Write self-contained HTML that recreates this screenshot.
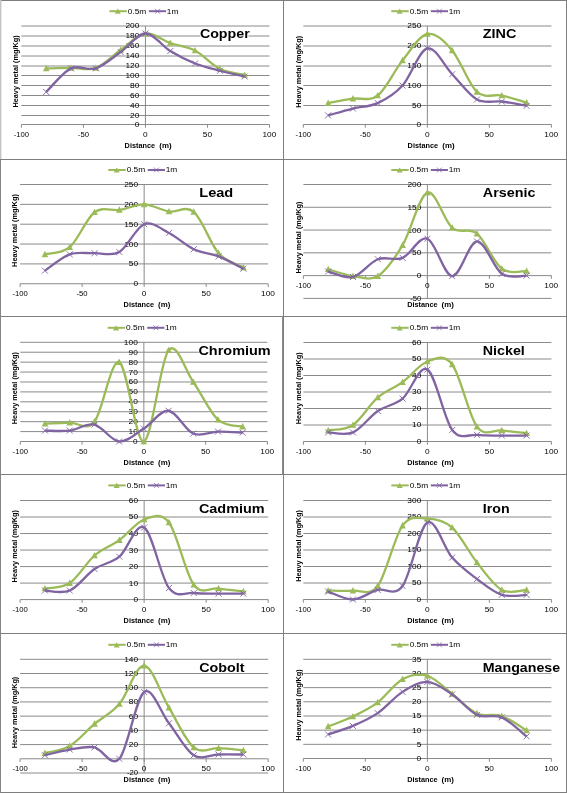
<!DOCTYPE html>
<html><head><meta charset="utf-8"><style>
html,body{margin:0;padding:0;background:#fff;}
svg{display:block;font-family:"Liberation Sans",sans-serif;will-change:transform;}
</style></head><body>
<svg width="567" height="793" viewBox="0 0 567 793">
<rect width="567" height="793" fill="#fff"/>
<line x1="21.4" y1="115.5" x2="269.5" y2="115.5" stroke="#8a8a8a"/>
<line x1="21.4" y1="105.5" x2="269.5" y2="105.5" stroke="#8a8a8a"/>
<line x1="21.4" y1="95.5" x2="269.5" y2="95.5" stroke="#8a8a8a"/>
<line x1="21.4" y1="85.5" x2="269.5" y2="85.5" stroke="#8a8a8a"/>
<line x1="21.4" y1="75.5" x2="269.5" y2="75.5" stroke="#8a8a8a"/>
<line x1="21.4" y1="66" x2="269.5" y2="66" stroke="#8a8a8a"/>
<line x1="21.4" y1="56" x2="269.5" y2="56" stroke="#8a8a8a"/>
<line x1="21.4" y1="46" x2="269.5" y2="46" stroke="#8a8a8a"/>
<line x1="21.4" y1="36" x2="269.5" y2="36" stroke="#8a8a8a"/>
<line x1="21.4" y1="26" x2="269.5" y2="26" stroke="#8a8a8a"/>
<line x1="21.4" y1="124.5" x2="269.5" y2="124.5" stroke="#8a8a8a"/>
<line x1="21.4" y1="124.5" x2="21.4" y2="127.7" stroke="#8a8a8a"/>
<line x1="83.42" y1="124.5" x2="83.42" y2="127.7" stroke="#8a8a8a"/>
<line x1="145.45" y1="124.5" x2="145.45" y2="127.7" stroke="#8a8a8a"/>
<line x1="207.47" y1="124.5" x2="207.47" y2="127.7" stroke="#8a8a8a"/>
<line x1="269.5" y1="124.5" x2="269.5" y2="127.7" stroke="#8a8a8a"/>
<line x1="145.45" y1="26" x2="145.45" y2="124.5" stroke="#8a8a8a"/>
<text x="134.74" y="126.95" font-size="7" textLength="4.63" lengthAdjust="spacingAndGlyphs" fill="#000">0</text>
<text x="130.11" y="117.95" font-size="7" textLength="9.27" lengthAdjust="spacingAndGlyphs" fill="#000">20</text>
<text x="130.11" y="107.95" font-size="7" textLength="9.27" lengthAdjust="spacingAndGlyphs" fill="#000">40</text>
<text x="130.11" y="97.95" font-size="7" textLength="9.27" lengthAdjust="spacingAndGlyphs" fill="#000">60</text>
<text x="130.11" y="87.95" font-size="7" textLength="9.27" lengthAdjust="spacingAndGlyphs" fill="#000">80</text>
<text x="125.48" y="77.95" font-size="7" textLength="13.9" lengthAdjust="spacingAndGlyphs" fill="#000">100</text>
<text x="125.48" y="68.45" font-size="7" textLength="13.9" lengthAdjust="spacingAndGlyphs" fill="#000">120</text>
<text x="125.48" y="58.45" font-size="7" textLength="13.9" lengthAdjust="spacingAndGlyphs" fill="#000">140</text>
<text x="125.48" y="48.45" font-size="7" textLength="13.9" lengthAdjust="spacingAndGlyphs" fill="#000">160</text>
<text x="125.48" y="38.45" font-size="7" textLength="13.9" lengthAdjust="spacingAndGlyphs" fill="#000">180</text>
<text x="125.48" y="28.45" font-size="7" textLength="13.9" lengthAdjust="spacingAndGlyphs" fill="#000">200</text>
<text x="13.71" y="136.95" font-size="7" textLength="15.34" lengthAdjust="spacingAndGlyphs" fill="#000">-100</text>
<text x="77.87" y="136.95" font-size="7" textLength="11.08" lengthAdjust="spacingAndGlyphs" fill="#000">-50</text>
<text x="143.13" y="136.95" font-size="7" textLength="4.63" lengthAdjust="spacingAndGlyphs" fill="#000">0</text>
<text x="202.84" y="136.95" font-size="7" textLength="9.27" lengthAdjust="spacingAndGlyphs" fill="#000">50</text>
<text x="262.4" y="136.95" font-size="7" textLength="13.9" lengthAdjust="spacingAndGlyphs" fill="#000">100</text>
<text x="124.61" y="147.9" font-size="6.9" textLength="30.44" lengthAdjust="spacingAndGlyphs" font-weight="bold" fill="#000">Distance</text>
<text x="159.31" y="147.9" font-size="6.9" textLength="12.29" lengthAdjust="spacingAndGlyphs" font-weight="bold" fill="#000">(m)</text>
<text transform="translate(18.34,107.49) rotate(-90)" x="0" y="0" font-size="7.1" textLength="72.05" lengthAdjust="spacingAndGlyphs" font-weight="bold" fill="#000">Heavy metal (mg/Kg)</text>
<line x1="109.4" y1="11.2" x2="126.8" y2="11.2" stroke="#9BBB59" stroke-width="2"/>
<path d="M117.8,8.6 L120.8,13.8 L114.8,13.8Z" fill="#9BBB59"/>
<text x="127.77" y="13.65" font-size="7" textLength="18.52" lengthAdjust="spacingAndGlyphs" fill="#000">0.5m</text>
<line x1="148.9" y1="11.2" x2="166.1" y2="11.2" stroke="#8064A2" stroke-width="2"/>
<path d="M155.1,8.8 L159.9,13.6 M159.9,8.8 L155.1,13.6" stroke="#8064A2" stroke-width="0.8"/>
<text x="166.77" y="13.65" font-size="7" textLength="11.57" lengthAdjust="spacingAndGlyphs" fill="#000">1m</text>
<path d="M46.21,68.38 C50.34,68.3 62.75,67.98 71.02,67.9 C79.29,67.82 87.56,70.88 95.83,67.9 C104.1,64.92 112.37,55.73 120.64,50 C128.91,44.27 137.18,34.67 145.45,33.5 C153.72,32.33 161.99,40.17 170.26,43 C178.53,45.83 186.8,46.19 195.07,50.5 C203.34,54.81 211.61,64.76 219.88,68.85 C228.15,72.94 240.56,74 244.69,75.03" fill="none" stroke="#9BBB59" stroke-width="2.3" stroke-linejoin="round"/>
<path d="M46.21,64.78 L49.51,71.17 L42.91,71.17Z" fill="#9BBB59"/>
<path d="M71.02,64.3 L74.32,70.7 L67.72,70.7Z" fill="#9BBB59"/>
<path d="M95.83,64.3 L99.13,70.7 L92.53,70.7Z" fill="#9BBB59"/>
<path d="M120.64,46.4 L123.94,52.8 L117.34,52.8Z" fill="#9BBB59"/>
<path d="M145.45,29.9 L148.75,36.3 L142.15,36.3Z" fill="#9BBB59"/>
<path d="M170.26,39.4 L173.56,45.8 L166.96,45.8Z" fill="#9BBB59"/>
<path d="M195.07,46.9 L198.37,53.3 L191.77,53.3Z" fill="#9BBB59"/>
<path d="M219.88,65.25 L223.18,71.65 L216.58,71.65Z" fill="#9BBB59"/>
<path d="M244.69,71.43 L247.99,77.83 L241.39,77.83Z" fill="#9BBB59"/>
<path d="M46.21,92 C50.34,88.06 62.75,72.31 71.02,68.38 C79.29,64.44 87.56,71.1 95.83,68.38 C104.1,65.65 112.37,57.81 120.64,52 C128.91,46.19 137.18,33.67 145.45,33.5 C153.72,33.33 161.99,46 170.26,51 C178.53,56 186.8,60.21 195.07,63.5 C203.34,66.79 211.61,68.58 219.88,70.75 C228.15,72.92 240.56,75.54 244.69,76.5" fill="none" stroke="#8064A2" stroke-width="2.3" stroke-linejoin="round"/>
<path d="M43.21,89 L49.21,95 M49.21,89 L43.21,95" stroke="#8064A2" stroke-width="0.9"/>
<path d="M68.02,65.38 L74.02,71.38 M74.02,65.38 L68.02,71.38" stroke="#8064A2" stroke-width="0.9"/>
<path d="M92.83,65.38 L98.83,71.38 M98.83,65.38 L92.83,71.38" stroke="#8064A2" stroke-width="0.9"/>
<path d="M117.64,49 L123.64,55 M123.64,49 L117.64,55" stroke="#8064A2" stroke-width="0.9"/>
<path d="M142.45,30.5 L148.45,36.5 M148.45,30.5 L142.45,36.5" stroke="#8064A2" stroke-width="0.9"/>
<path d="M167.26,48 L173.26,54 M173.26,48 L167.26,54" stroke="#8064A2" stroke-width="0.9"/>
<path d="M192.07,60.5 L198.07,66.5 M198.07,60.5 L192.07,66.5" stroke="#8064A2" stroke-width="0.9"/>
<path d="M216.88,67.75 L222.88,73.75 M222.88,67.75 L216.88,73.75" stroke="#8064A2" stroke-width="0.9"/>
<path d="M241.69,73.5 L247.69,79.5 M247.69,73.5 L241.69,79.5" stroke="#8064A2" stroke-width="0.9"/>
<rect x="200.2" y="27.5" width="48.3" height="11.2" fill="#fff"/>
<text x="199.92" y="37.5" font-size="12.9" textLength="49.8" lengthAdjust="spacingAndGlyphs" font-weight="bold" fill="#000">Copper</text>
<line x1="303.3" y1="105.5" x2="551.4" y2="105.5" stroke="#8a8a8a"/>
<line x1="303.3" y1="85.5" x2="551.4" y2="85.5" stroke="#8a8a8a"/>
<line x1="303.3" y1="66" x2="551.4" y2="66" stroke="#8a8a8a"/>
<line x1="303.3" y1="46" x2="551.4" y2="46" stroke="#8a8a8a"/>
<line x1="303.3" y1="26" x2="551.4" y2="26" stroke="#8a8a8a"/>
<line x1="303.3" y1="124.5" x2="551.4" y2="124.5" stroke="#8a8a8a"/>
<line x1="303.3" y1="124.5" x2="303.3" y2="127.7" stroke="#8a8a8a"/>
<line x1="365.32" y1="124.5" x2="365.32" y2="127.7" stroke="#8a8a8a"/>
<line x1="427.35" y1="124.5" x2="427.35" y2="127.7" stroke="#8a8a8a"/>
<line x1="489.38" y1="124.5" x2="489.38" y2="127.7" stroke="#8a8a8a"/>
<line x1="551.4" y1="124.5" x2="551.4" y2="127.7" stroke="#8a8a8a"/>
<line x1="427.35" y1="26" x2="427.35" y2="124.5" stroke="#8a8a8a"/>
<text x="416.64" y="126.95" font-size="7" textLength="4.63" lengthAdjust="spacingAndGlyphs" fill="#000">0</text>
<text x="412.01" y="107.95" font-size="7" textLength="9.27" lengthAdjust="spacingAndGlyphs" fill="#000">50</text>
<text x="407.38" y="87.95" font-size="7" textLength="13.9" lengthAdjust="spacingAndGlyphs" fill="#000">100</text>
<text x="407.38" y="68.45" font-size="7" textLength="13.9" lengthAdjust="spacingAndGlyphs" fill="#000">150</text>
<text x="407.38" y="48.45" font-size="7" textLength="13.9" lengthAdjust="spacingAndGlyphs" fill="#000">200</text>
<text x="407.38" y="28.45" font-size="7" textLength="13.9" lengthAdjust="spacingAndGlyphs" fill="#000">250</text>
<text x="295.61" y="136.95" font-size="7" textLength="15.34" lengthAdjust="spacingAndGlyphs" fill="#000">-100</text>
<text x="359.77" y="136.95" font-size="7" textLength="11.08" lengthAdjust="spacingAndGlyphs" fill="#000">-50</text>
<text x="425.03" y="136.95" font-size="7" textLength="4.63" lengthAdjust="spacingAndGlyphs" fill="#000">0</text>
<text x="484.74" y="136.95" font-size="7" textLength="9.27" lengthAdjust="spacingAndGlyphs" fill="#000">50</text>
<text x="544.3" y="136.95" font-size="7" textLength="13.9" lengthAdjust="spacingAndGlyphs" fill="#000">100</text>
<text x="407.61" y="147.9" font-size="6.9" textLength="30.44" lengthAdjust="spacingAndGlyphs" font-weight="bold" fill="#000">Distance</text>
<text x="442.31" y="147.9" font-size="6.9" textLength="12.29" lengthAdjust="spacingAndGlyphs" font-weight="bold" fill="#000">(m)</text>
<text transform="translate(300.68,107.69) rotate(-90)" x="0" y="0" font-size="7.7" textLength="71.75" lengthAdjust="spacingAndGlyphs" font-weight="bold" fill="#000">Heavy metal (mg/Kg)</text>
<line x1="391.3" y1="11.2" x2="408.7" y2="11.2" stroke="#9BBB59" stroke-width="2"/>
<path d="M399.7,8.6 L402.7,13.8 L396.7,13.8Z" fill="#9BBB59"/>
<text x="409.67" y="13.65" font-size="7" textLength="18.52" lengthAdjust="spacingAndGlyphs" fill="#000">0.5m</text>
<line x1="430.8" y1="11.2" x2="448" y2="11.2" stroke="#8064A2" stroke-width="2"/>
<path d="M437,8.8 L441.8,13.6 M441.8,8.8 L437,13.6" stroke="#8064A2" stroke-width="0.8"/>
<text x="448.67" y="13.65" font-size="7" textLength="11.57" lengthAdjust="spacingAndGlyphs" fill="#000">1m</text>
<path d="M328.11,103.1 C332.25,102.37 344.65,99.97 352.92,98.7 C361.19,97.43 369.46,101.88 377.73,95.5 C386,89.12 394.27,70.65 402.54,60.4 C410.81,50.15 419.08,35.67 427.35,34 C435.62,32.33 443.89,40.75 452.16,50.4 C460.43,60.05 468.7,84.38 476.97,91.9 C485.24,99.42 493.51,93.7 501.78,95.5 C510.05,97.3 522.45,101.5 526.59,102.7" fill="none" stroke="#9BBB59" stroke-width="2.3" stroke-linejoin="round"/>
<path d="M328.11,99.5 L331.41,105.9 L324.81,105.9Z" fill="#9BBB59"/>
<path d="M352.92,95.1 L356.22,101.5 L349.62,101.5Z" fill="#9BBB59"/>
<path d="M377.73,91.9 L381.03,98.3 L374.43,98.3Z" fill="#9BBB59"/>
<path d="M402.54,56.8 L405.84,63.2 L399.24,63.2Z" fill="#9BBB59"/>
<path d="M427.35,30.4 L430.65,36.8 L424.05,36.8Z" fill="#9BBB59"/>
<path d="M452.16,46.8 L455.46,53.2 L448.86,53.2Z" fill="#9BBB59"/>
<path d="M476.97,88.3 L480.27,94.7 L473.67,94.7Z" fill="#9BBB59"/>
<path d="M501.78,91.9 L505.08,98.3 L498.48,98.3Z" fill="#9BBB59"/>
<path d="M526.59,99.1 L529.89,105.5 L523.29,105.5Z" fill="#9BBB59"/>
<path d="M328.11,115.38 C332.25,114.24 344.65,110.59 352.92,108.54 C361.19,106.49 369.46,106.94 377.73,103.1 C386,99.26 394.27,94.62 402.54,85.5 C410.81,76.38 419.08,50.29 427.35,48.4 C435.62,46.52 443.89,65.67 452.16,74.19 C460.43,82.71 468.7,94.95 476.97,99.5 C485.24,104.05 493.51,100.44 501.78,101.5 C510.05,102.56 522.45,105.15 526.59,105.88" fill="none" stroke="#8064A2" stroke-width="2.3" stroke-linejoin="round"/>
<path d="M325.11,112.38 L331.11,118.38 M331.11,112.38 L325.11,118.38" stroke="#8064A2" stroke-width="0.9"/>
<path d="M349.92,105.54 L355.92,111.54 M355.92,105.54 L349.92,111.54" stroke="#8064A2" stroke-width="0.9"/>
<path d="M374.73,100.1 L380.73,106.1 M380.73,100.1 L374.73,106.1" stroke="#8064A2" stroke-width="0.9"/>
<path d="M399.54,82.5 L405.54,88.5 M405.54,82.5 L399.54,88.5" stroke="#8064A2" stroke-width="0.9"/>
<path d="M424.35,45.4 L430.35,51.4 M430.35,45.4 L424.35,51.4" stroke="#8064A2" stroke-width="0.9"/>
<path d="M449.16,71.19 L455.16,77.19 M455.16,71.19 L449.16,77.19" stroke="#8064A2" stroke-width="0.9"/>
<path d="M473.97,96.5 L479.97,102.5 M479.97,96.5 L473.97,102.5" stroke="#8064A2" stroke-width="0.9"/>
<path d="M498.78,98.5 L504.78,104.5 M504.78,98.5 L498.78,104.5" stroke="#8064A2" stroke-width="0.9"/>
<path d="M523.59,102.88 L529.59,108.88 M529.59,102.88 L523.59,108.88" stroke="#8064A2" stroke-width="0.9"/>
<rect x="482.9" y="27.7" width="32.1" height="11.2" fill="#fff"/>
<text x="482.77" y="37.7" font-size="12.9" textLength="33.62" lengthAdjust="spacingAndGlyphs" font-weight="bold" fill="#000">ZINC</text>
<line x1="20.1" y1="263.9" x2="268.2" y2="263.9" stroke="#8a8a8a"/>
<line x1="20.1" y1="244.05" x2="268.2" y2="244.05" stroke="#8a8a8a"/>
<line x1="20.1" y1="224.2" x2="268.2" y2="224.2" stroke="#8a8a8a"/>
<line x1="20.1" y1="204.35" x2="268.2" y2="204.35" stroke="#8a8a8a"/>
<line x1="20.1" y1="184.5" x2="268.2" y2="184.5" stroke="#8a8a8a"/>
<line x1="20.1" y1="283.75" x2="268.2" y2="283.75" stroke="#8a8a8a"/>
<line x1="20.1" y1="283.75" x2="20.1" y2="286.95" stroke="#8a8a8a"/>
<line x1="82.12" y1="283.75" x2="82.12" y2="286.95" stroke="#8a8a8a"/>
<line x1="144.15" y1="283.75" x2="144.15" y2="286.95" stroke="#8a8a8a"/>
<line x1="206.17" y1="283.75" x2="206.17" y2="286.95" stroke="#8a8a8a"/>
<line x1="268.2" y1="283.75" x2="268.2" y2="286.95" stroke="#8a8a8a"/>
<line x1="144.15" y1="184.5" x2="144.15" y2="283.75" stroke="#8a8a8a"/>
<text x="133.44" y="286.2" font-size="7" textLength="4.63" lengthAdjust="spacingAndGlyphs" fill="#000">0</text>
<text x="128.81" y="266.35" font-size="7" textLength="9.27" lengthAdjust="spacingAndGlyphs" fill="#000">50</text>
<text x="124.18" y="246.5" font-size="7" textLength="13.9" lengthAdjust="spacingAndGlyphs" fill="#000">100</text>
<text x="124.18" y="226.65" font-size="7" textLength="13.9" lengthAdjust="spacingAndGlyphs" fill="#000">150</text>
<text x="124.18" y="206.8" font-size="7" textLength="13.9" lengthAdjust="spacingAndGlyphs" fill="#000">200</text>
<text x="124.18" y="186.95" font-size="7" textLength="13.9" lengthAdjust="spacingAndGlyphs" fill="#000">250</text>
<text x="12.41" y="296.2" font-size="7" textLength="15.34" lengthAdjust="spacingAndGlyphs" fill="#000">-100</text>
<text x="76.57" y="296.2" font-size="7" textLength="11.08" lengthAdjust="spacingAndGlyphs" fill="#000">-50</text>
<text x="141.83" y="296.2" font-size="7" textLength="4.63" lengthAdjust="spacingAndGlyphs" fill="#000">0</text>
<text x="201.54" y="296.2" font-size="7" textLength="9.27" lengthAdjust="spacingAndGlyphs" fill="#000">50</text>
<text x="261.1" y="296.2" font-size="7" textLength="13.9" lengthAdjust="spacingAndGlyphs" fill="#000">100</text>
<text x="123.61" y="306.7" font-size="6.9" textLength="30.44" lengthAdjust="spacingAndGlyphs" font-weight="bold" fill="#000">Distance</text>
<text x="158.01" y="306.7" font-size="6.9" textLength="12.29" lengthAdjust="spacingAndGlyphs" font-weight="bold" fill="#000">(m)</text>
<text transform="translate(17.04,266.89) rotate(-90)" x="0" y="0" font-size="7.1" textLength="72.76" lengthAdjust="spacingAndGlyphs" font-weight="bold" fill="#000">Heavy metal (mg/Kg)</text>
<line x1="108.3" y1="170" x2="125.7" y2="170" stroke="#9BBB59" stroke-width="2"/>
<path d="M116.7,167.4 L119.7,172.6 L113.7,172.6Z" fill="#9BBB59"/>
<text x="126.67" y="172.45" font-size="7" textLength="18.52" lengthAdjust="spacingAndGlyphs" fill="#000">0.5m</text>
<line x1="147.8" y1="170" x2="165" y2="170" stroke="#8064A2" stroke-width="2"/>
<path d="M154,167.6 L158.8,172.4 M158.8,167.6 L154,172.4" stroke="#8064A2" stroke-width="0.8"/>
<text x="165.67" y="172.45" font-size="7" textLength="11.57" lengthAdjust="spacingAndGlyphs" fill="#000">1m</text>
<path d="M44.91,254.37 C49.05,253.18 61.45,254.24 69.72,247.23 C77.99,240.21 86.26,218.51 94.53,212.29 C102.8,206.07 111.07,211.23 119.34,209.91 C127.61,208.58 135.88,204.09 144.15,204.35 C152.42,204.61 160.69,210.24 168.96,211.5 C177.23,212.75 185.5,204.95 193.77,211.89 C202.04,218.84 210.31,243.92 218.58,253.18 C226.85,262.44 239.25,265.09 243.39,267.47" fill="none" stroke="#9BBB59" stroke-width="2.3" stroke-linejoin="round"/>
<path d="M44.91,250.77 L48.21,257.17 L41.61,257.17Z" fill="#9BBB59"/>
<path d="M69.72,243.63 L73.02,250.03 L66.42,250.03Z" fill="#9BBB59"/>
<path d="M94.53,208.69 L97.83,215.09 L91.23,215.09Z" fill="#9BBB59"/>
<path d="M119.34,206.31 L122.64,212.71 L116.04,212.71Z" fill="#9BBB59"/>
<path d="M144.15,200.75 L147.45,207.15 L140.85,207.15Z" fill="#9BBB59"/>
<path d="M168.96,207.9 L172.26,214.3 L165.66,214.3Z" fill="#9BBB59"/>
<path d="M193.77,208.29 L197.07,214.69 L190.47,214.69Z" fill="#9BBB59"/>
<path d="M218.58,249.58 L221.88,255.98 L215.28,255.98Z" fill="#9BBB59"/>
<path d="M243.39,263.87 L246.69,270.27 L240.09,270.27Z" fill="#9BBB59"/>
<path d="M44.91,270.65 C49.05,267.94 61.45,257.28 69.72,254.37 C77.99,251.46 86.26,253.58 94.53,253.18 C102.8,252.78 111.07,256.82 119.34,251.99 C127.61,247.16 135.88,227.38 144.15,224.2 C152.42,221.02 160.69,228.77 168.96,232.93 C177.23,237.1 185.5,245.31 193.77,249.21 C202.04,253.11 210.31,253.11 218.58,256.36 C226.85,259.6 239.25,266.61 243.39,268.66" fill="none" stroke="#8064A2" stroke-width="2.3" stroke-linejoin="round"/>
<path d="M41.91,267.65 L47.91,273.65 M47.91,267.65 L41.91,273.65" stroke="#8064A2" stroke-width="0.9"/>
<path d="M66.72,251.37 L72.72,257.37 M72.72,251.37 L66.72,257.37" stroke="#8064A2" stroke-width="0.9"/>
<path d="M91.53,250.18 L97.53,256.18 M97.53,250.18 L91.53,256.18" stroke="#8064A2" stroke-width="0.9"/>
<path d="M116.34,248.99 L122.34,254.99 M122.34,248.99 L116.34,254.99" stroke="#8064A2" stroke-width="0.9"/>
<path d="M141.15,221.2 L147.15,227.2 M147.15,221.2 L141.15,227.2" stroke="#8064A2" stroke-width="0.9"/>
<path d="M165.96,229.93 L171.96,235.93 M171.96,229.93 L165.96,235.93" stroke="#8064A2" stroke-width="0.9"/>
<path d="M190.77,246.21 L196.77,252.21 M196.77,246.21 L190.77,252.21" stroke="#8064A2" stroke-width="0.9"/>
<path d="M215.58,253.36 L221.58,259.36 M221.58,253.36 L215.58,259.36" stroke="#8064A2" stroke-width="0.9"/>
<path d="M240.39,265.66 L246.39,271.66 M246.39,265.66 L240.39,271.66" stroke="#8064A2" stroke-width="0.9"/>
<rect x="199.9" y="186.9" width="31.4" height="11.2" fill="#fff"/>
<text x="199.22" y="196.9" font-size="12.9" textLength="34.04" lengthAdjust="spacingAndGlyphs" font-weight="bold" fill="#000">Lead</text>
<line x1="303.4" y1="298.4" x2="551.4" y2="298.4" stroke="#8a8a8a"/>
<line x1="303.4" y1="252.84" x2="551.4" y2="252.84" stroke="#8a8a8a"/>
<line x1="303.4" y1="230.06" x2="551.4" y2="230.06" stroke="#8a8a8a"/>
<line x1="303.4" y1="207.28" x2="551.4" y2="207.28" stroke="#8a8a8a"/>
<line x1="303.4" y1="184.5" x2="551.4" y2="184.5" stroke="#8a8a8a"/>
<line x1="303.4" y1="275.62" x2="551.4" y2="275.62" stroke="#8a8a8a"/>
<line x1="303.4" y1="275.62" x2="303.4" y2="278.82" stroke="#8a8a8a"/>
<line x1="365.4" y1="275.62" x2="365.4" y2="278.82" stroke="#8a8a8a"/>
<line x1="427.4" y1="275.62" x2="427.4" y2="278.82" stroke="#8a8a8a"/>
<line x1="489.4" y1="275.62" x2="489.4" y2="278.82" stroke="#8a8a8a"/>
<line x1="551.4" y1="275.62" x2="551.4" y2="278.82" stroke="#8a8a8a"/>
<line x1="427.4" y1="184.5" x2="427.4" y2="298.4" stroke="#8a8a8a"/>
<text x="410.22" y="300.85" font-size="7" textLength="11.08" lengthAdjust="spacingAndGlyphs" fill="#000">-50</text>
<text x="416.69" y="278.07" font-size="7" textLength="4.63" lengthAdjust="spacingAndGlyphs" fill="#000">0</text>
<text x="412.06" y="255.29" font-size="7" textLength="9.27" lengthAdjust="spacingAndGlyphs" fill="#000">50</text>
<text x="407.43" y="232.51" font-size="7" textLength="13.9" lengthAdjust="spacingAndGlyphs" fill="#000">100</text>
<text x="407.43" y="209.73" font-size="7" textLength="13.9" lengthAdjust="spacingAndGlyphs" fill="#000">150</text>
<text x="407.43" y="186.95" font-size="7" textLength="13.9" lengthAdjust="spacingAndGlyphs" fill="#000">200</text>
<text x="295.71" y="288.07" font-size="7" textLength="15.34" lengthAdjust="spacingAndGlyphs" fill="#000">-100</text>
<text x="359.84" y="288.07" font-size="7" textLength="11.08" lengthAdjust="spacingAndGlyphs" fill="#000">-50</text>
<text x="425.08" y="288.07" font-size="7" textLength="4.63" lengthAdjust="spacingAndGlyphs" fill="#000">0</text>
<text x="484.76" y="288.07" font-size="7" textLength="9.27" lengthAdjust="spacingAndGlyphs" fill="#000">50</text>
<text x="544.3" y="288.07" font-size="7" textLength="13.9" lengthAdjust="spacingAndGlyphs" fill="#000">100</text>
<text x="407.21" y="306.7" font-size="6.9" textLength="30.44" lengthAdjust="spacingAndGlyphs" font-weight="bold" fill="#000">Distance</text>
<text x="441.61" y="306.7" font-size="6.9" textLength="12.29" lengthAdjust="spacingAndGlyphs" font-weight="bold" fill="#000">(m)</text>
<text transform="translate(300.88,273.59) rotate(-90)" x="0" y="0" font-size="7.7" textLength="71.95" lengthAdjust="spacingAndGlyphs" font-weight="bold" fill="#000">Heavy metal (mg/Kg)</text>
<line x1="391.3" y1="170" x2="408.7" y2="170" stroke="#9BBB59" stroke-width="2"/>
<path d="M399.7,167.4 L402.7,172.6 L396.7,172.6Z" fill="#9BBB59"/>
<text x="409.67" y="172.45" font-size="7" textLength="18.52" lengthAdjust="spacingAndGlyphs" fill="#000">0.5m</text>
<line x1="430.8" y1="170" x2="448" y2="170" stroke="#8064A2" stroke-width="2"/>
<path d="M437,167.6 L441.8,172.4 M441.8,167.6 L437,172.4" stroke="#8064A2" stroke-width="0.8"/>
<text x="448.67" y="172.45" font-size="7" textLength="11.57" lengthAdjust="spacingAndGlyphs" fill="#000">1m</text>
<path d="M328.2,269.24 C332.33,270.38 344.73,274.94 353,276.08 C361.27,277.21 369.53,281.24 377.8,276.08 C386.07,270.91 394.33,258.99 402.6,245.09 C410.87,231.2 419.13,195.59 427.4,192.7 C435.67,189.82 443.93,220.95 452.2,227.78 C460.47,234.62 468.73,226.87 477,233.7 C485.27,240.54 493.53,262.56 501.8,268.79 C510.07,275.01 522.47,270.68 526.6,271.06" fill="none" stroke="#9BBB59" stroke-width="2.3" stroke-linejoin="round"/>
<path d="M328.2,265.64 L331.5,272.04 L324.9,272.04Z" fill="#9BBB59"/>
<path d="M353,272.48 L356.3,278.88 L349.7,278.88Z" fill="#9BBB59"/>
<path d="M377.8,272.48 L381.1,278.88 L374.5,278.88Z" fill="#9BBB59"/>
<path d="M402.6,241.49 L405.9,247.89 L399.3,247.89Z" fill="#9BBB59"/>
<path d="M427.4,189.1 L430.7,195.5 L424.1,195.5Z" fill="#9BBB59"/>
<path d="M452.2,224.18 L455.5,230.58 L448.9,230.58Z" fill="#9BBB59"/>
<path d="M477,230.1 L480.3,236.5 L473.7,236.5Z" fill="#9BBB59"/>
<path d="M501.8,265.19 L505.1,271.59 L498.5,271.59Z" fill="#9BBB59"/>
<path d="M526.6,267.46 L529.9,273.86 L523.3,273.86Z" fill="#9BBB59"/>
<path d="M328.2,271.52 C332.33,272.43 344.73,279.04 353,276.99 C361.27,274.94 369.53,262.41 377.8,259.22 C386.07,256.03 394.33,261.27 402.6,257.85 C410.87,254.43 419.13,235.68 427.4,238.72 C435.67,241.75 443.93,275.62 452.2,276.08 C460.47,276.53 468.73,241.83 477,241.45 C485.27,241.07 493.53,268.1 501.8,273.8 C510.07,279.49 522.47,275.32 526.6,275.62" fill="none" stroke="#8064A2" stroke-width="2.3" stroke-linejoin="round"/>
<path d="M325.2,268.52 L331.2,274.52 M331.2,268.52 L325.2,274.52" stroke="#8064A2" stroke-width="0.9"/>
<path d="M350,273.99 L356,279.99 M356,273.99 L350,279.99" stroke="#8064A2" stroke-width="0.9"/>
<path d="M374.8,256.22 L380.8,262.22 M380.8,256.22 L374.8,262.22" stroke="#8064A2" stroke-width="0.9"/>
<path d="M399.6,254.85 L405.6,260.85 M405.6,254.85 L399.6,260.85" stroke="#8064A2" stroke-width="0.9"/>
<path d="M424.4,235.72 L430.4,241.72 M430.4,235.72 L424.4,241.72" stroke="#8064A2" stroke-width="0.9"/>
<path d="M449.2,273.08 L455.2,279.08 M455.2,273.08 L449.2,279.08" stroke="#8064A2" stroke-width="0.9"/>
<path d="M474,238.45 L480,244.45 M480,238.45 L474,244.45" stroke="#8064A2" stroke-width="0.9"/>
<path d="M498.8,270.8 L504.8,276.8 M504.8,270.8 L498.8,276.8" stroke="#8064A2" stroke-width="0.9"/>
<path d="M523.6,272.62 L529.6,278.62 M529.6,272.62 L523.6,278.62" stroke="#8064A2" stroke-width="0.9"/>
<rect x="482.9" y="186.9" width="51.1" height="11.2" fill="#fff"/>
<text x="482.84" y="196.9" font-size="12.9" textLength="52.58" lengthAdjust="spacingAndGlyphs" font-weight="bold" fill="#000">Arsenic</text>
<line x1="20.3" y1="431.58" x2="267.4" y2="431.58" stroke="#8a8a8a"/>
<line x1="20.3" y1="421.66" x2="267.4" y2="421.66" stroke="#8a8a8a"/>
<line x1="20.3" y1="411.74" x2="267.4" y2="411.74" stroke="#8a8a8a"/>
<line x1="20.3" y1="401.82" x2="267.4" y2="401.82" stroke="#8a8a8a"/>
<line x1="20.3" y1="391.9" x2="267.4" y2="391.9" stroke="#8a8a8a"/>
<line x1="20.3" y1="381.98" x2="267.4" y2="381.98" stroke="#8a8a8a"/>
<line x1="20.3" y1="372.06" x2="267.4" y2="372.06" stroke="#8a8a8a"/>
<line x1="20.3" y1="362.14" x2="267.4" y2="362.14" stroke="#8a8a8a"/>
<line x1="20.3" y1="352.22" x2="267.4" y2="352.22" stroke="#8a8a8a"/>
<line x1="20.3" y1="342.3" x2="267.4" y2="342.3" stroke="#8a8a8a"/>
<line x1="20.3" y1="441.5" x2="267.4" y2="441.5" stroke="#8a8a8a"/>
<line x1="20.3" y1="441.5" x2="20.3" y2="444.7" stroke="#8a8a8a"/>
<line x1="82.07" y1="441.5" x2="82.07" y2="444.7" stroke="#8a8a8a"/>
<line x1="143.85" y1="441.5" x2="143.85" y2="444.7" stroke="#8a8a8a"/>
<line x1="205.62" y1="441.5" x2="205.62" y2="444.7" stroke="#8a8a8a"/>
<line x1="267.4" y1="441.5" x2="267.4" y2="444.7" stroke="#8a8a8a"/>
<line x1="143.85" y1="342.3" x2="143.85" y2="441.5" stroke="#8a8a8a"/>
<text x="133.14" y="443.95" font-size="7" textLength="4.63" lengthAdjust="spacingAndGlyphs" fill="#000">0</text>
<text x="128.51" y="434.03" font-size="7" textLength="9.27" lengthAdjust="spacingAndGlyphs" fill="#000">10</text>
<text x="128.51" y="424.11" font-size="7" textLength="9.27" lengthAdjust="spacingAndGlyphs" fill="#000">20</text>
<text x="128.51" y="414.19" font-size="7" textLength="9.27" lengthAdjust="spacingAndGlyphs" fill="#000">30</text>
<text x="128.51" y="404.27" font-size="7" textLength="9.27" lengthAdjust="spacingAndGlyphs" fill="#000">40</text>
<text x="128.51" y="394.35" font-size="7" textLength="9.27" lengthAdjust="spacingAndGlyphs" fill="#000">50</text>
<text x="128.51" y="384.43" font-size="7" textLength="9.27" lengthAdjust="spacingAndGlyphs" fill="#000">60</text>
<text x="128.51" y="374.51" font-size="7" textLength="9.27" lengthAdjust="spacingAndGlyphs" fill="#000">70</text>
<text x="128.51" y="364.59" font-size="7" textLength="9.27" lengthAdjust="spacingAndGlyphs" fill="#000">80</text>
<text x="128.51" y="354.67" font-size="7" textLength="9.27" lengthAdjust="spacingAndGlyphs" fill="#000">90</text>
<text x="123.88" y="344.75" font-size="7" textLength="13.9" lengthAdjust="spacingAndGlyphs" fill="#000">100</text>
<text x="12.61" y="453.95" font-size="7" textLength="15.34" lengthAdjust="spacingAndGlyphs" fill="#000">-100</text>
<text x="76.52" y="453.95" font-size="7" textLength="11.08" lengthAdjust="spacingAndGlyphs" fill="#000">-50</text>
<text x="141.53" y="453.95" font-size="7" textLength="4.63" lengthAdjust="spacingAndGlyphs" fill="#000">0</text>
<text x="200.99" y="453.95" font-size="7" textLength="9.27" lengthAdjust="spacingAndGlyphs" fill="#000">50</text>
<text x="260.3" y="453.95" font-size="7" textLength="13.9" lengthAdjust="spacingAndGlyphs" fill="#000">100</text>
<text x="123.61" y="464.7" font-size="6.9" textLength="30.44" lengthAdjust="spacingAndGlyphs" font-weight="bold" fill="#000">Distance</text>
<text x="158.01" y="464.7" font-size="6.9" textLength="12.29" lengthAdjust="spacingAndGlyphs" font-weight="bold" fill="#000">(m)</text>
<text transform="translate(17.24,424.19) rotate(-90)" x="0" y="0" font-size="7.1" textLength="72.15" lengthAdjust="spacingAndGlyphs" font-weight="bold" fill="#000">Heavy metal (mg/Kg)</text>
<line x1="107.7" y1="327.8" x2="125.1" y2="327.8" stroke="#9BBB59" stroke-width="2"/>
<path d="M116.1,325.2 L119.1,330.4 L113.1,330.4Z" fill="#9BBB59"/>
<text x="126.07" y="330.25" font-size="7" textLength="18.52" lengthAdjust="spacingAndGlyphs" fill="#000">0.5m</text>
<line x1="147.2" y1="327.8" x2="164.4" y2="327.8" stroke="#8064A2" stroke-width="2"/>
<path d="M153.4,325.4 L158.2,330.2 M158.2,325.4 L153.4,330.2" stroke="#8064A2" stroke-width="0.8"/>
<text x="165.07" y="330.25" font-size="7" textLength="11.57" lengthAdjust="spacingAndGlyphs" fill="#000">1m</text>
<path d="M45.01,423.64 C49.13,423.48 61.48,422.98 69.72,422.65 C77.96,422.32 86.19,431.75 94.43,421.66 C102.67,411.57 110.9,358.83 119.14,362.14 C127.38,365.45 135.61,443.48 143.85,441.5 C152.09,439.52 160.32,360.16 168.56,350.24 C176.8,340.32 185.03,370.41 193.27,381.98 C201.51,393.55 209.74,412.24 217.98,419.68 C226.22,427.12 238.57,425.46 242.69,426.62" fill="none" stroke="#9BBB59" stroke-width="2.3" stroke-linejoin="round"/>
<path d="M45.01,420.04 L48.31,426.44 L41.71,426.44Z" fill="#9BBB59"/>
<path d="M69.72,419.05 L73.02,425.45 L66.42,425.45Z" fill="#9BBB59"/>
<path d="M94.43,418.06 L97.73,424.46 L91.13,424.46Z" fill="#9BBB59"/>
<path d="M119.14,358.54 L122.44,364.94 L115.84,364.94Z" fill="#9BBB59"/>
<path d="M143.85,437.9 L147.15,444.3 L140.55,444.3Z" fill="#9BBB59"/>
<path d="M168.56,346.64 L171.86,353.04 L165.26,353.04Z" fill="#9BBB59"/>
<path d="M193.27,378.38 L196.57,384.78 L189.97,384.78Z" fill="#9BBB59"/>
<path d="M217.98,416.08 L221.28,422.48 L214.68,422.48Z" fill="#9BBB59"/>
<path d="M242.69,423.02 L245.99,429.42 L239.39,429.42Z" fill="#9BBB59"/>
<path d="M45.01,430.59 C49.13,430.59 61.48,431.58 69.72,430.59 C77.96,429.6 86.19,422.82 94.43,424.64 C102.67,426.45 110.9,440.84 119.14,441.5 C127.38,442.16 135.61,433.73 143.85,428.6 C152.09,423.48 160.32,409.92 168.56,410.75 C176.8,411.57 185.03,430.09 193.27,433.56 C201.51,437.04 209.74,431.75 217.98,431.58 C226.22,431.41 238.57,432.41 242.69,432.57" fill="none" stroke="#8064A2" stroke-width="2.3" stroke-linejoin="round"/>
<path d="M42.01,427.59 L48.01,433.59 M48.01,427.59 L42.01,433.59" stroke="#8064A2" stroke-width="0.9"/>
<path d="M66.72,427.59 L72.72,433.59 M72.72,427.59 L66.72,433.59" stroke="#8064A2" stroke-width="0.9"/>
<path d="M91.43,421.64 L97.43,427.64 M97.43,421.64 L91.43,427.64" stroke="#8064A2" stroke-width="0.9"/>
<path d="M116.14,438.5 L122.14,444.5 M122.14,438.5 L116.14,444.5" stroke="#8064A2" stroke-width="0.9"/>
<path d="M140.85,425.6 L146.85,431.6 M146.85,425.6 L140.85,431.6" stroke="#8064A2" stroke-width="0.9"/>
<path d="M165.56,407.75 L171.56,413.75 M171.56,407.75 L165.56,413.75" stroke="#8064A2" stroke-width="0.9"/>
<path d="M190.27,430.56 L196.27,436.56 M196.27,430.56 L190.27,436.56" stroke="#8064A2" stroke-width="0.9"/>
<path d="M214.98,428.58 L220.98,434.58 M220.98,428.58 L214.98,434.58" stroke="#8064A2" stroke-width="0.9"/>
<path d="M239.69,429.57 L245.69,435.57 M245.69,429.57 L239.69,435.57" stroke="#8064A2" stroke-width="0.9"/>
<rect x="198.7" y="345" width="70.1" height="11.2" fill="#fff"/>
<text x="198.41" y="355" font-size="12.9" textLength="72.29" lengthAdjust="spacingAndGlyphs" font-weight="bold" fill="#000">Chromium</text>
<line x1="303.4" y1="425" x2="551.4" y2="425" stroke="#8a8a8a"/>
<line x1="303.4" y1="408.5" x2="551.4" y2="408.5" stroke="#8a8a8a"/>
<line x1="303.4" y1="392" x2="551.4" y2="392" stroke="#8a8a8a"/>
<line x1="303.4" y1="375.5" x2="551.4" y2="375.5" stroke="#8a8a8a"/>
<line x1="303.4" y1="359" x2="551.4" y2="359" stroke="#8a8a8a"/>
<line x1="303.4" y1="342.5" x2="551.4" y2="342.5" stroke="#8a8a8a"/>
<line x1="303.4" y1="441.5" x2="551.4" y2="441.5" stroke="#8a8a8a"/>
<line x1="303.4" y1="441.5" x2="303.4" y2="444.7" stroke="#8a8a8a"/>
<line x1="365.4" y1="441.5" x2="365.4" y2="444.7" stroke="#8a8a8a"/>
<line x1="427.4" y1="441.5" x2="427.4" y2="444.7" stroke="#8a8a8a"/>
<line x1="489.4" y1="441.5" x2="489.4" y2="444.7" stroke="#8a8a8a"/>
<line x1="551.4" y1="441.5" x2="551.4" y2="444.7" stroke="#8a8a8a"/>
<line x1="427.4" y1="342.5" x2="427.4" y2="441.5" stroke="#8a8a8a"/>
<text x="416.69" y="443.95" font-size="7" textLength="4.63" lengthAdjust="spacingAndGlyphs" fill="#000">0</text>
<text x="412.06" y="427.45" font-size="7" textLength="9.27" lengthAdjust="spacingAndGlyphs" fill="#000">10</text>
<text x="412.06" y="410.95" font-size="7" textLength="9.27" lengthAdjust="spacingAndGlyphs" fill="#000">20</text>
<text x="412.06" y="394.45" font-size="7" textLength="9.27" lengthAdjust="spacingAndGlyphs" fill="#000">30</text>
<text x="412.06" y="377.95" font-size="7" textLength="9.27" lengthAdjust="spacingAndGlyphs" fill="#000">40</text>
<text x="412.06" y="361.45" font-size="7" textLength="9.27" lengthAdjust="spacingAndGlyphs" fill="#000">50</text>
<text x="412.06" y="344.95" font-size="7" textLength="9.27" lengthAdjust="spacingAndGlyphs" fill="#000">60</text>
<text x="295.71" y="453.95" font-size="7" textLength="15.34" lengthAdjust="spacingAndGlyphs" fill="#000">-100</text>
<text x="359.84" y="453.95" font-size="7" textLength="11.08" lengthAdjust="spacingAndGlyphs" fill="#000">-50</text>
<text x="425.08" y="453.95" font-size="7" textLength="4.63" lengthAdjust="spacingAndGlyphs" fill="#000">0</text>
<text x="484.76" y="453.95" font-size="7" textLength="9.27" lengthAdjust="spacingAndGlyphs" fill="#000">50</text>
<text x="544.3" y="453.95" font-size="7" textLength="13.9" lengthAdjust="spacingAndGlyphs" fill="#000">100</text>
<text x="407.21" y="464.7" font-size="6.9" textLength="30.44" lengthAdjust="spacingAndGlyphs" font-weight="bold" fill="#000">Distance</text>
<text x="441.61" y="464.7" font-size="6.9" textLength="12.29" lengthAdjust="spacingAndGlyphs" font-weight="bold" fill="#000">(m)</text>
<text transform="translate(301.18,424.19) rotate(-90)" x="0" y="0" font-size="7.7" textLength="71.85" lengthAdjust="spacingAndGlyphs" font-weight="bold" fill="#000">Heavy metal (mg/Kg)</text>
<line x1="391.3" y1="327.8" x2="408.7" y2="327.8" stroke="#9BBB59" stroke-width="2"/>
<path d="M399.7,325.2 L402.7,330.4 L396.7,330.4Z" fill="#9BBB59"/>
<text x="409.67" y="330.25" font-size="7" textLength="18.52" lengthAdjust="spacingAndGlyphs" fill="#000">0.5m</text>
<line x1="430.8" y1="327.8" x2="448" y2="327.8" stroke="#8064A2" stroke-width="2"/>
<path d="M437,325.4 L441.8,330.2 M441.8,325.4 L437,330.2" stroke="#8064A2" stroke-width="0.8"/>
<text x="448.67" y="330.25" font-size="7" textLength="11.57" lengthAdjust="spacingAndGlyphs" fill="#000">1m</text>
<path d="M328.2,430.44 C332.33,429.54 344.73,430.5 353,425 C361.27,419.5 369.53,404.59 377.8,397.44 C386.07,390.3 394.33,388.1 402.6,382.1 C410.87,376.11 419.13,364.42 427.4,361.48 C435.67,358.53 443.93,353.58 452.2,364.44 C460.47,375.31 468.73,415.65 477,426.65 C485.27,437.65 493.53,429.34 501.8,430.44 C510.07,431.55 522.47,432.78 526.6,433.25" fill="none" stroke="#9BBB59" stroke-width="2.3" stroke-linejoin="round"/>
<path d="M328.2,426.84 L331.5,433.25 L324.9,433.25Z" fill="#9BBB59"/>
<path d="M353,421.4 L356.3,427.8 L349.7,427.8Z" fill="#9BBB59"/>
<path d="M377.8,393.84 L381.1,400.25 L374.5,400.25Z" fill="#9BBB59"/>
<path d="M402.6,378.5 L405.9,384.9 L399.3,384.9Z" fill="#9BBB59"/>
<path d="M427.4,357.88 L430.7,364.28 L424.1,364.28Z" fill="#9BBB59"/>
<path d="M452.2,360.84 L455.5,367.25 L448.9,367.25Z" fill="#9BBB59"/>
<path d="M477,423.05 L480.3,429.45 L473.7,429.45Z" fill="#9BBB59"/>
<path d="M501.8,426.84 L505.1,433.25 L498.5,433.25Z" fill="#9BBB59"/>
<path d="M526.6,429.65 L529.9,436.05 L523.3,436.05Z" fill="#9BBB59"/>
<path d="M328.2,432.43 C332.33,432.43 344.73,436 353,432.43 C361.27,428.85 369.53,416.61 377.8,410.98 C386.07,405.34 394.33,405.5 402.6,398.6 C410.87,391.7 419.13,364.34 427.4,369.56 C435.67,374.78 443.93,419.06 452.2,429.95 C460.47,440.84 468.73,433.96 477,434.9 C485.27,435.83 493.53,435.45 501.8,435.56 C510.07,435.67 522.47,435.56 526.6,435.56" fill="none" stroke="#8064A2" stroke-width="2.3" stroke-linejoin="round"/>
<path d="M325.2,429.43 L331.2,435.43 M331.2,429.43 L325.2,435.43" stroke="#8064A2" stroke-width="0.9"/>
<path d="M350,429.43 L356,435.43 M356,429.43 L350,435.43" stroke="#8064A2" stroke-width="0.9"/>
<path d="M374.8,407.98 L380.8,413.98 M380.8,407.98 L374.8,413.98" stroke="#8064A2" stroke-width="0.9"/>
<path d="M399.6,395.6 L405.6,401.6 M405.6,395.6 L399.6,401.6" stroke="#8064A2" stroke-width="0.9"/>
<path d="M424.4,366.56 L430.4,372.56 M430.4,366.56 L424.4,372.56" stroke="#8064A2" stroke-width="0.9"/>
<path d="M449.2,426.95 L455.2,432.95 M455.2,426.95 L449.2,432.95" stroke="#8064A2" stroke-width="0.9"/>
<path d="M474,431.9 L480,437.9 M480,431.9 L474,437.9" stroke="#8064A2" stroke-width="0.9"/>
<path d="M498.8,432.56 L504.8,438.56 M504.8,432.56 L498.8,438.56" stroke="#8064A2" stroke-width="0.9"/>
<path d="M523.6,432.56 L529.6,438.56 M529.6,432.56 L523.6,438.56" stroke="#8064A2" stroke-width="0.9"/>
<rect x="483.4" y="345" width="39.4" height="11.2" fill="#fff"/>
<text x="482.74" y="355" font-size="12.9" textLength="42.07" lengthAdjust="spacingAndGlyphs" font-weight="bold" fill="#000">Nickel</text>
<line x1="20.1" y1="583.08" x2="268.2" y2="583.08" stroke="#8a8a8a"/>
<line x1="20.1" y1="566.57" x2="268.2" y2="566.57" stroke="#8a8a8a"/>
<line x1="20.1" y1="550.05" x2="268.2" y2="550.05" stroke="#8a8a8a"/>
<line x1="20.1" y1="533.53" x2="268.2" y2="533.53" stroke="#8a8a8a"/>
<line x1="20.1" y1="517.02" x2="268.2" y2="517.02" stroke="#8a8a8a"/>
<line x1="20.1" y1="500.5" x2="268.2" y2="500.5" stroke="#8a8a8a"/>
<line x1="20.1" y1="599.6" x2="268.2" y2="599.6" stroke="#8a8a8a"/>
<line x1="20.1" y1="599.6" x2="20.1" y2="602.8" stroke="#8a8a8a"/>
<line x1="82.12" y1="599.6" x2="82.12" y2="602.8" stroke="#8a8a8a"/>
<line x1="144.15" y1="599.6" x2="144.15" y2="602.8" stroke="#8a8a8a"/>
<line x1="206.17" y1="599.6" x2="206.17" y2="602.8" stroke="#8a8a8a"/>
<line x1="268.2" y1="599.6" x2="268.2" y2="602.8" stroke="#8a8a8a"/>
<line x1="144.15" y1="500.5" x2="144.15" y2="599.6" stroke="#8a8a8a"/>
<text x="133.44" y="602.05" font-size="7" textLength="4.63" lengthAdjust="spacingAndGlyphs" fill="#000">0</text>
<text x="128.81" y="585.53" font-size="7" textLength="9.27" lengthAdjust="spacingAndGlyphs" fill="#000">10</text>
<text x="128.81" y="569.02" font-size="7" textLength="9.27" lengthAdjust="spacingAndGlyphs" fill="#000">20</text>
<text x="128.81" y="552.5" font-size="7" textLength="9.27" lengthAdjust="spacingAndGlyphs" fill="#000">30</text>
<text x="128.81" y="535.98" font-size="7" textLength="9.27" lengthAdjust="spacingAndGlyphs" fill="#000">40</text>
<text x="128.81" y="519.47" font-size="7" textLength="9.27" lengthAdjust="spacingAndGlyphs" fill="#000">50</text>
<text x="128.81" y="502.95" font-size="7" textLength="9.27" lengthAdjust="spacingAndGlyphs" fill="#000">60</text>
<text x="12.41" y="612.05" font-size="7" textLength="15.34" lengthAdjust="spacingAndGlyphs" fill="#000">-100</text>
<text x="76.57" y="612.05" font-size="7" textLength="11.08" lengthAdjust="spacingAndGlyphs" fill="#000">-50</text>
<text x="141.83" y="612.05" font-size="7" textLength="4.63" lengthAdjust="spacingAndGlyphs" fill="#000">0</text>
<text x="201.54" y="612.05" font-size="7" textLength="9.27" lengthAdjust="spacingAndGlyphs" fill="#000">50</text>
<text x="261.1" y="612.05" font-size="7" textLength="13.9" lengthAdjust="spacingAndGlyphs" fill="#000">100</text>
<text x="123.61" y="622.7" font-size="6.9" textLength="30.44" lengthAdjust="spacingAndGlyphs" font-weight="bold" fill="#000">Distance</text>
<text x="158.01" y="622.7" font-size="6.9" textLength="12.29" lengthAdjust="spacingAndGlyphs" font-weight="bold" fill="#000">(m)</text>
<text transform="translate(17.24,582.39) rotate(-90)" x="0" y="0" font-size="7.1" textLength="72.35" lengthAdjust="spacingAndGlyphs" font-weight="bold" fill="#000">Heavy metal (mg/Kg)</text>
<line x1="108.3" y1="485.4" x2="125.7" y2="485.4" stroke="#9BBB59" stroke-width="2"/>
<path d="M116.7,482.8 L119.7,488 L113.7,488Z" fill="#9BBB59"/>
<text x="126.67" y="487.85" font-size="7" textLength="18.52" lengthAdjust="spacingAndGlyphs" fill="#000">0.5m</text>
<line x1="147.8" y1="485.4" x2="165" y2="485.4" stroke="#8064A2" stroke-width="2"/>
<path d="M154,483 L158.8,487.8 M158.8,483 L154,487.8" stroke="#8064A2" stroke-width="0.8"/>
<text x="165.67" y="487.85" font-size="7" textLength="11.57" lengthAdjust="spacingAndGlyphs" fill="#000">1m</text>
<path d="M44.91,588.53 C49.05,587.63 61.45,588.59 69.72,583.08 C77.99,577.58 86.26,562.66 94.53,555.5 C102.8,548.34 111.07,546.14 119.34,540.14 C127.61,534.14 135.88,522.44 144.15,519.49 C152.42,516.55 160.69,511.59 168.96,522.47 C177.23,533.34 185.5,573.72 193.77,584.74 C202.04,595.75 210.31,587.43 218.58,588.53 C226.85,589.63 239.25,590.87 243.39,591.34" fill="none" stroke="#9BBB59" stroke-width="2.3" stroke-linejoin="round"/>
<path d="M44.91,584.93 L48.21,591.33 L41.61,591.33Z" fill="#9BBB59"/>
<path d="M69.72,579.48 L73.02,585.88 L66.42,585.88Z" fill="#9BBB59"/>
<path d="M94.53,551.9 L97.83,558.3 L91.23,558.3Z" fill="#9BBB59"/>
<path d="M119.34,536.54 L122.64,542.94 L116.04,542.94Z" fill="#9BBB59"/>
<path d="M144.15,515.89 L147.45,522.29 L140.85,522.29Z" fill="#9BBB59"/>
<path d="M168.96,518.87 L172.26,525.27 L165.66,525.27Z" fill="#9BBB59"/>
<path d="M193.77,581.13 L197.07,587.53 L190.47,587.53Z" fill="#9BBB59"/>
<path d="M218.58,584.93 L221.88,591.33 L215.28,591.33Z" fill="#9BBB59"/>
<path d="M243.39,587.74 L246.69,594.14 L240.09,594.14Z" fill="#9BBB59"/>
<path d="M44.91,590.52 C49.05,590.52 61.45,594.09 69.72,590.52 C77.99,586.94 86.26,574.69 94.53,569.04 C102.8,563.4 111.07,563.57 119.34,556.66 C127.61,549.75 135.88,522.36 144.15,527.59 C152.42,532.82 160.69,577.14 168.96,588.04 C177.23,598.94 185.5,592.06 193.77,592.99 C202.04,593.93 210.31,593.54 218.58,593.65 C226.85,593.76 239.25,593.65 243.39,593.65" fill="none" stroke="#8064A2" stroke-width="2.3" stroke-linejoin="round"/>
<path d="M41.91,587.52 L47.91,593.52 M47.91,587.52 L41.91,593.52" stroke="#8064A2" stroke-width="0.9"/>
<path d="M66.72,587.52 L72.72,593.52 M72.72,587.52 L66.72,593.52" stroke="#8064A2" stroke-width="0.9"/>
<path d="M91.53,566.04 L97.53,572.04 M97.53,566.04 L91.53,572.04" stroke="#8064A2" stroke-width="0.9"/>
<path d="M116.34,553.66 L122.34,559.66 M122.34,553.66 L116.34,559.66" stroke="#8064A2" stroke-width="0.9"/>
<path d="M141.15,524.59 L147.15,530.59 M147.15,524.59 L141.15,530.59" stroke="#8064A2" stroke-width="0.9"/>
<path d="M165.96,585.04 L171.96,591.04 M171.96,585.04 L165.96,591.04" stroke="#8064A2" stroke-width="0.9"/>
<path d="M190.77,589.99 L196.77,595.99 M196.77,589.99 L190.77,595.99" stroke="#8064A2" stroke-width="0.9"/>
<path d="M215.58,590.65 L221.58,596.65 M221.58,590.65 L215.58,596.65" stroke="#8064A2" stroke-width="0.9"/>
<path d="M240.39,590.65 L246.39,596.65 M246.39,590.65 L240.39,596.65" stroke="#8064A2" stroke-width="0.9"/>
<rect x="199.2" y="502.7" width="63.6" height="11.2" fill="#fff"/>
<text x="198.91" y="512.7" font-size="12.9" textLength="65.79" lengthAdjust="spacingAndGlyphs" font-weight="bold" fill="#000">Cadmium</text>
<line x1="303.3" y1="583" x2="551.4" y2="583" stroke="#8a8a8a"/>
<line x1="303.3" y1="566.5" x2="551.4" y2="566.5" stroke="#8a8a8a"/>
<line x1="303.3" y1="550" x2="551.4" y2="550" stroke="#8a8a8a"/>
<line x1="303.3" y1="533.5" x2="551.4" y2="533.5" stroke="#8a8a8a"/>
<line x1="303.3" y1="517" x2="551.4" y2="517" stroke="#8a8a8a"/>
<line x1="303.3" y1="500.5" x2="551.4" y2="500.5" stroke="#8a8a8a"/>
<line x1="303.3" y1="599.5" x2="551.4" y2="599.5" stroke="#8a8a8a"/>
<line x1="303.3" y1="599.5" x2="303.3" y2="602.7" stroke="#8a8a8a"/>
<line x1="365.32" y1="599.5" x2="365.32" y2="602.7" stroke="#8a8a8a"/>
<line x1="427.35" y1="599.5" x2="427.35" y2="602.7" stroke="#8a8a8a"/>
<line x1="489.38" y1="599.5" x2="489.38" y2="602.7" stroke="#8a8a8a"/>
<line x1="551.4" y1="599.5" x2="551.4" y2="602.7" stroke="#8a8a8a"/>
<line x1="427.35" y1="500.5" x2="427.35" y2="599.5" stroke="#8a8a8a"/>
<text x="416.64" y="601.95" font-size="7" textLength="4.63" lengthAdjust="spacingAndGlyphs" fill="#000">0</text>
<text x="412.01" y="585.45" font-size="7" textLength="9.27" lengthAdjust="spacingAndGlyphs" fill="#000">50</text>
<text x="407.38" y="568.95" font-size="7" textLength="13.9" lengthAdjust="spacingAndGlyphs" fill="#000">100</text>
<text x="407.38" y="552.45" font-size="7" textLength="13.9" lengthAdjust="spacingAndGlyphs" fill="#000">150</text>
<text x="407.38" y="535.95" font-size="7" textLength="13.9" lengthAdjust="spacingAndGlyphs" fill="#000">200</text>
<text x="407.38" y="519.45" font-size="7" textLength="13.9" lengthAdjust="spacingAndGlyphs" fill="#000">250</text>
<text x="407.38" y="502.95" font-size="7" textLength="13.9" lengthAdjust="spacingAndGlyphs" fill="#000">300</text>
<text x="295.61" y="611.95" font-size="7" textLength="15.34" lengthAdjust="spacingAndGlyphs" fill="#000">-100</text>
<text x="359.77" y="611.95" font-size="7" textLength="11.08" lengthAdjust="spacingAndGlyphs" fill="#000">-50</text>
<text x="425.03" y="611.95" font-size="7" textLength="4.63" lengthAdjust="spacingAndGlyphs" fill="#000">0</text>
<text x="484.74" y="611.95" font-size="7" textLength="9.27" lengthAdjust="spacingAndGlyphs" fill="#000">50</text>
<text x="544.3" y="611.95" font-size="7" textLength="13.9" lengthAdjust="spacingAndGlyphs" fill="#000">100</text>
<text x="407.21" y="622.7" font-size="6.9" textLength="30.44" lengthAdjust="spacingAndGlyphs" font-weight="bold" fill="#000">Distance</text>
<text x="441.61" y="622.7" font-size="6.9" textLength="12.29" lengthAdjust="spacingAndGlyphs" font-weight="bold" fill="#000">(m)</text>
<text transform="translate(300.88,581.79) rotate(-90)" x="0" y="0" font-size="7.7" textLength="71.75" lengthAdjust="spacingAndGlyphs" font-weight="bold" fill="#000">Heavy metal (mg/Kg)</text>
<line x1="391.3" y1="485.4" x2="408.7" y2="485.4" stroke="#9BBB59" stroke-width="2"/>
<path d="M399.7,482.8 L402.7,488 L396.7,488Z" fill="#9BBB59"/>
<text x="409.67" y="487.85" font-size="7" textLength="18.52" lengthAdjust="spacingAndGlyphs" fill="#000">0.5m</text>
<line x1="430.8" y1="485.4" x2="448" y2="485.4" stroke="#8064A2" stroke-width="2"/>
<path d="M437,483 L441.8,487.8 M441.8,483 L437,487.8" stroke="#8064A2" stroke-width="0.8"/>
<text x="448.67" y="487.85" font-size="7" textLength="11.57" lengthAdjust="spacingAndGlyphs" fill="#000">1m</text>
<path d="M328.11,590.59 C332.25,590.59 344.65,591.36 352.92,590.59 C361.19,589.82 369.46,596.81 377.73,585.97 C386,575.13 394.27,536.8 402.54,525.58 C410.81,514.36 419.08,518.32 427.35,518.65 C435.62,518.98 443.89,520.24 452.16,527.56 C460.43,534.88 468.7,552.14 476.97,562.54 C485.24,572.93 493.51,585.37 501.78,589.93 C510.05,594.49 522.45,589.93 526.59,589.93" fill="none" stroke="#9BBB59" stroke-width="2.3" stroke-linejoin="round"/>
<path d="M328.11,586.99 L331.41,593.39 L324.81,593.39Z" fill="#9BBB59"/>
<path d="M352.92,586.99 L356.22,593.39 L349.62,593.39Z" fill="#9BBB59"/>
<path d="M377.73,582.37 L381.03,588.77 L374.43,588.77Z" fill="#9BBB59"/>
<path d="M402.54,521.98 L405.84,528.38 L399.24,528.38Z" fill="#9BBB59"/>
<path d="M427.35,515.05 L430.65,521.45 L424.05,521.45Z" fill="#9BBB59"/>
<path d="M452.16,523.96 L455.46,530.36 L448.86,530.36Z" fill="#9BBB59"/>
<path d="M476.97,558.94 L480.27,565.34 L473.67,565.34Z" fill="#9BBB59"/>
<path d="M501.78,586.33 L505.08,592.73 L498.48,592.73Z" fill="#9BBB59"/>
<path d="M526.59,586.33 L529.89,592.73 L523.29,592.73Z" fill="#9BBB59"/>
<path d="M328.11,591.58 C332.25,592.9 344.65,599.77 352.92,599.5 C361.19,599.23 369.46,592.18 377.73,589.93 C386,587.67 394.27,597.19 402.54,585.97 C410.81,574.75 419.08,527.34 427.35,522.61 C435.62,517.88 443.89,548.19 452.16,557.59 C460.43,567 468.7,572.82 476.97,579.04 C485.24,585.25 493.51,592.24 501.78,594.88 C510.05,597.52 522.45,594.88 526.59,594.88" fill="none" stroke="#8064A2" stroke-width="2.3" stroke-linejoin="round"/>
<path d="M325.11,588.58 L331.11,594.58 M331.11,588.58 L325.11,594.58" stroke="#8064A2" stroke-width="0.9"/>
<path d="M349.92,596.5 L355.92,602.5 M355.92,596.5 L349.92,602.5" stroke="#8064A2" stroke-width="0.9"/>
<path d="M374.73,586.93 L380.73,592.93 M380.73,586.93 L374.73,592.93" stroke="#8064A2" stroke-width="0.9"/>
<path d="M399.54,582.97 L405.54,588.97 M405.54,582.97 L399.54,588.97" stroke="#8064A2" stroke-width="0.9"/>
<path d="M424.35,519.61 L430.35,525.61 M430.35,519.61 L424.35,525.61" stroke="#8064A2" stroke-width="0.9"/>
<path d="M449.16,554.59 L455.16,560.59 M455.16,554.59 L449.16,560.59" stroke="#8064A2" stroke-width="0.9"/>
<path d="M473.97,576.04 L479.97,582.04 M479.97,576.04 L473.97,582.04" stroke="#8064A2" stroke-width="0.9"/>
<path d="M498.78,591.88 L504.78,597.88 M504.78,591.88 L498.78,597.88" stroke="#8064A2" stroke-width="0.9"/>
<path d="M523.59,591.88 L529.59,597.88 M529.59,591.88 L523.59,597.88" stroke="#8064A2" stroke-width="0.9"/>
<rect x="483.4" y="502.7" width="24.3" height="11.2" fill="#fff"/>
<text x="482.75" y="512.7" font-size="12.9" textLength="26.83" lengthAdjust="spacingAndGlyphs" font-weight="bold" fill="#000">Iron</text>
<line x1="20.1" y1="773" x2="268.2" y2="773" stroke="#8a8a8a"/>
<line x1="20.1" y1="744.58" x2="268.2" y2="744.58" stroke="#8a8a8a"/>
<line x1="20.1" y1="730.36" x2="268.2" y2="730.36" stroke="#8a8a8a"/>
<line x1="20.1" y1="716.15" x2="268.2" y2="716.15" stroke="#8a8a8a"/>
<line x1="20.1" y1="701.94" x2="268.2" y2="701.94" stroke="#8a8a8a"/>
<line x1="20.1" y1="687.72" x2="268.2" y2="687.72" stroke="#8a8a8a"/>
<line x1="20.1" y1="673.51" x2="268.2" y2="673.51" stroke="#8a8a8a"/>
<line x1="20.1" y1="659.3" x2="268.2" y2="659.3" stroke="#8a8a8a"/>
<line x1="20.1" y1="758.79" x2="268.2" y2="758.79" stroke="#8a8a8a"/>
<line x1="20.1" y1="758.79" x2="20.1" y2="761.99" stroke="#8a8a8a"/>
<line x1="82.12" y1="758.79" x2="82.12" y2="761.99" stroke="#8a8a8a"/>
<line x1="144.15" y1="758.79" x2="144.15" y2="761.99" stroke="#8a8a8a"/>
<line x1="206.17" y1="758.79" x2="206.17" y2="761.99" stroke="#8a8a8a"/>
<line x1="268.2" y1="758.79" x2="268.2" y2="761.99" stroke="#8a8a8a"/>
<line x1="144.15" y1="659.3" x2="144.15" y2="773" stroke="#8a8a8a"/>
<text x="126.97" y="775.45" font-size="7" textLength="11.08" lengthAdjust="spacingAndGlyphs" fill="#000">-20</text>
<text x="133.44" y="761.24" font-size="7" textLength="4.63" lengthAdjust="spacingAndGlyphs" fill="#000">0</text>
<text x="128.81" y="747.03" font-size="7" textLength="9.27" lengthAdjust="spacingAndGlyphs" fill="#000">20</text>
<text x="128.81" y="732.81" font-size="7" textLength="9.27" lengthAdjust="spacingAndGlyphs" fill="#000">40</text>
<text x="128.81" y="718.6" font-size="7" textLength="9.27" lengthAdjust="spacingAndGlyphs" fill="#000">60</text>
<text x="128.81" y="704.39" font-size="7" textLength="9.27" lengthAdjust="spacingAndGlyphs" fill="#000">80</text>
<text x="124.18" y="690.17" font-size="7" textLength="13.9" lengthAdjust="spacingAndGlyphs" fill="#000">100</text>
<text x="124.18" y="675.96" font-size="7" textLength="13.9" lengthAdjust="spacingAndGlyphs" fill="#000">120</text>
<text x="124.18" y="661.75" font-size="7" textLength="13.9" lengthAdjust="spacingAndGlyphs" fill="#000">140</text>
<text x="12.41" y="771.24" font-size="7" textLength="15.34" lengthAdjust="spacingAndGlyphs" fill="#000">-100</text>
<text x="76.57" y="771.24" font-size="7" textLength="11.08" lengthAdjust="spacingAndGlyphs" fill="#000">-50</text>
<text x="141.83" y="771.24" font-size="7" textLength="4.63" lengthAdjust="spacingAndGlyphs" fill="#000">0</text>
<text x="201.54" y="771.24" font-size="7" textLength="9.27" lengthAdjust="spacingAndGlyphs" fill="#000">50</text>
<text x="261.1" y="771.24" font-size="7" textLength="13.9" lengthAdjust="spacingAndGlyphs" fill="#000">100</text>
<text x="123.61" y="781.7" font-size="6.9" textLength="30.44" lengthAdjust="spacingAndGlyphs" font-weight="bold" fill="#000">Distance</text>
<text x="158.01" y="781.7" font-size="6.9" textLength="12.29" lengthAdjust="spacingAndGlyphs" font-weight="bold" fill="#000">(m)</text>
<text transform="translate(17.24,748.28) rotate(-90)" x="0" y="0" font-size="7.1" textLength="71.54" lengthAdjust="spacingAndGlyphs" font-weight="bold" fill="#000">Heavy metal (mg/Kg)</text>
<line x1="108.3" y1="644.8" x2="125.7" y2="644.8" stroke="#9BBB59" stroke-width="2"/>
<path d="M116.7,642.2 L119.7,647.4 L113.7,647.4Z" fill="#9BBB59"/>
<text x="126.67" y="647.25" font-size="7" textLength="18.52" lengthAdjust="spacingAndGlyphs" fill="#000">0.5m</text>
<line x1="147.8" y1="644.8" x2="165" y2="644.8" stroke="#8064A2" stroke-width="2"/>
<path d="M154,642.4 L158.8,647.2 M158.8,642.4 L154,647.2" stroke="#8064A2" stroke-width="0.8"/>
<text x="165.67" y="647.25" font-size="7" textLength="11.57" lengthAdjust="spacingAndGlyphs" fill="#000">1m</text>
<path d="M44.91,753.1 C49.05,751.92 61.45,750.85 69.72,746 C77.99,741.14 86.26,730.95 94.53,723.97 C102.8,716.98 111.07,713.78 119.34,704.07 C127.61,694.36 135.88,665.1 144.15,665.7 C152.42,666.29 160.69,694 168.96,707.62 C177.23,721.24 185.5,740.67 193.77,747.42 C202.04,754.17 210.31,747.65 218.58,748.13 C226.85,748.6 239.25,749.9 243.39,750.26" fill="none" stroke="#9BBB59" stroke-width="2.3" stroke-linejoin="round"/>
<path d="M44.91,749.5 L48.21,755.9 L41.61,755.9Z" fill="#9BBB59"/>
<path d="M69.72,742.4 L73.02,748.8 L66.42,748.8Z" fill="#9BBB59"/>
<path d="M94.53,720.37 L97.83,726.77 L91.23,726.77Z" fill="#9BBB59"/>
<path d="M119.34,700.47 L122.64,706.87 L116.04,706.87Z" fill="#9BBB59"/>
<path d="M144.15,662.1 L147.45,668.5 L140.85,668.5Z" fill="#9BBB59"/>
<path d="M168.96,704.02 L172.26,710.42 L165.66,710.42Z" fill="#9BBB59"/>
<path d="M193.77,743.82 L197.07,750.22 L190.47,750.22Z" fill="#9BBB59"/>
<path d="M218.58,744.53 L221.88,750.93 L215.28,750.93Z" fill="#9BBB59"/>
<path d="M243.39,746.66 L246.69,753.06 L240.09,753.06Z" fill="#9BBB59"/>
<path d="M44.91,755.23 C49.05,754.29 61.45,750.85 69.72,749.55 C77.99,748.25 86.26,745.88 94.53,747.42 C102.8,748.96 111.07,768.03 119.34,758.79 C127.61,749.55 135.88,697.91 144.15,691.99 C152.42,686.07 160.69,712.72 168.96,723.26 C177.23,733.8 185.5,750.02 193.77,755.23 C202.04,760.45 210.31,754.64 218.58,754.52 C226.85,754.41 239.25,754.52 243.39,754.52" fill="none" stroke="#8064A2" stroke-width="2.3" stroke-linejoin="round"/>
<path d="M41.91,752.23 L47.91,758.23 M47.91,752.23 L41.91,758.23" stroke="#8064A2" stroke-width="0.9"/>
<path d="M66.72,746.55 L72.72,752.55 M72.72,746.55 L66.72,752.55" stroke="#8064A2" stroke-width="0.9"/>
<path d="M91.53,744.42 L97.53,750.42 M97.53,744.42 L91.53,750.42" stroke="#8064A2" stroke-width="0.9"/>
<path d="M116.34,755.79 L122.34,761.79 M122.34,755.79 L116.34,761.79" stroke="#8064A2" stroke-width="0.9"/>
<path d="M141.15,688.99 L147.15,694.99 M147.15,688.99 L141.15,694.99" stroke="#8064A2" stroke-width="0.9"/>
<path d="M165.96,720.26 L171.96,726.26 M171.96,720.26 L165.96,726.26" stroke="#8064A2" stroke-width="0.9"/>
<path d="M190.77,752.23 L196.77,758.23 M196.77,752.23 L190.77,758.23" stroke="#8064A2" stroke-width="0.9"/>
<path d="M215.58,751.52 L221.58,757.52 M221.58,751.52 L215.58,757.52" stroke="#8064A2" stroke-width="0.9"/>
<path d="M240.39,751.52 L246.39,757.52 M246.39,751.52 L240.39,757.52" stroke="#8064A2" stroke-width="0.9"/>
<rect x="199.5" y="661.7" width="43.9" height="11.2" fill="#fff"/>
<text x="199.21" y="671.7" font-size="12.9" textLength="45.36" lengthAdjust="spacingAndGlyphs" font-weight="bold" fill="#000">Cobolt</text>
<line x1="303.3" y1="744.33" x2="551.4" y2="744.33" stroke="#8a8a8a"/>
<line x1="303.3" y1="730.16" x2="551.4" y2="730.16" stroke="#8a8a8a"/>
<line x1="303.3" y1="715.99" x2="551.4" y2="715.99" stroke="#8a8a8a"/>
<line x1="303.3" y1="701.81" x2="551.4" y2="701.81" stroke="#8a8a8a"/>
<line x1="303.3" y1="687.64" x2="551.4" y2="687.64" stroke="#8a8a8a"/>
<line x1="303.3" y1="673.47" x2="551.4" y2="673.47" stroke="#8a8a8a"/>
<line x1="303.3" y1="659.3" x2="551.4" y2="659.3" stroke="#8a8a8a"/>
<line x1="303.3" y1="758.5" x2="551.4" y2="758.5" stroke="#8a8a8a"/>
<line x1="303.3" y1="758.5" x2="303.3" y2="761.7" stroke="#8a8a8a"/>
<line x1="365.32" y1="758.5" x2="365.32" y2="761.7" stroke="#8a8a8a"/>
<line x1="427.35" y1="758.5" x2="427.35" y2="761.7" stroke="#8a8a8a"/>
<line x1="489.38" y1="758.5" x2="489.38" y2="761.7" stroke="#8a8a8a"/>
<line x1="551.4" y1="758.5" x2="551.4" y2="761.7" stroke="#8a8a8a"/>
<line x1="427.35" y1="659.3" x2="427.35" y2="758.5" stroke="#8a8a8a"/>
<text x="416.64" y="760.95" font-size="7" textLength="4.63" lengthAdjust="spacingAndGlyphs" fill="#000">0</text>
<text x="416.67" y="746.78" font-size="7" textLength="4.63" lengthAdjust="spacingAndGlyphs" fill="#000">5</text>
<text x="412.01" y="732.61" font-size="7" textLength="9.27" lengthAdjust="spacingAndGlyphs" fill="#000">10</text>
<text x="412.03" y="718.44" font-size="7" textLength="9.27" lengthAdjust="spacingAndGlyphs" fill="#000">15</text>
<text x="412.01" y="704.26" font-size="7" textLength="9.27" lengthAdjust="spacingAndGlyphs" fill="#000">20</text>
<text x="412.03" y="690.09" font-size="7" textLength="9.27" lengthAdjust="spacingAndGlyphs" fill="#000">25</text>
<text x="412.01" y="675.92" font-size="7" textLength="9.27" lengthAdjust="spacingAndGlyphs" fill="#000">30</text>
<text x="412.03" y="661.75" font-size="7" textLength="9.27" lengthAdjust="spacingAndGlyphs" fill="#000">35</text>
<text x="295.61" y="770.95" font-size="7" textLength="15.34" lengthAdjust="spacingAndGlyphs" fill="#000">-100</text>
<text x="359.77" y="770.95" font-size="7" textLength="11.08" lengthAdjust="spacingAndGlyphs" fill="#000">-50</text>
<text x="425.03" y="770.95" font-size="7" textLength="4.63" lengthAdjust="spacingAndGlyphs" fill="#000">0</text>
<text x="484.74" y="770.95" font-size="7" textLength="9.27" lengthAdjust="spacingAndGlyphs" fill="#000">50</text>
<text x="544.3" y="770.95" font-size="7" textLength="13.9" lengthAdjust="spacingAndGlyphs" fill="#000">100</text>
<text x="407.21" y="781.7" font-size="6.9" textLength="30.44" lengthAdjust="spacingAndGlyphs" font-weight="bold" fill="#000">Distance</text>
<text x="441.61" y="781.7" font-size="6.9" textLength="12.29" lengthAdjust="spacingAndGlyphs" font-weight="bold" fill="#000">(m)</text>
<text transform="translate(300.88,740.78) rotate(-90)" x="0" y="0" font-size="7.7" textLength="71.44" lengthAdjust="spacingAndGlyphs" font-weight="bold" fill="#000">Heavy metal (mg/Kg)</text>
<line x1="391.3" y1="644.8" x2="408.7" y2="644.8" stroke="#9BBB59" stroke-width="2"/>
<path d="M399.7,642.2 L402.7,647.4 L396.7,647.4Z" fill="#9BBB59"/>
<text x="409.67" y="647.25" font-size="7" textLength="18.52" lengthAdjust="spacingAndGlyphs" fill="#000">0.5m</text>
<line x1="430.8" y1="644.8" x2="448" y2="644.8" stroke="#8064A2" stroke-width="2"/>
<path d="M437,642.4 L441.8,647.2 M441.8,642.4 L437,647.2" stroke="#8064A2" stroke-width="0.8"/>
<text x="448.67" y="647.25" font-size="7" textLength="11.57" lengthAdjust="spacingAndGlyphs" fill="#000">1m</text>
<path d="M328.11,726.47 C332.25,724.82 344.65,720.57 352.92,716.55 C361.19,712.54 369.46,708.62 377.73,702.38 C386,696.15 394.27,683.58 402.54,679.14 C410.81,674.7 419.08,673.28 427.35,675.74 C435.62,678.2 443.89,687.6 452.16,693.88 C460.43,700.16 468.7,709.75 476.97,713.43 C485.24,717.12 493.51,713.15 501.78,715.99 C510.05,718.82 522.45,728.03 526.59,730.44" fill="none" stroke="#9BBB59" stroke-width="2.3" stroke-linejoin="round"/>
<path d="M328.11,722.87 L331.41,729.27 L324.81,729.27Z" fill="#9BBB59"/>
<path d="M352.92,712.95 L356.22,719.35 L349.62,719.35Z" fill="#9BBB59"/>
<path d="M377.73,698.78 L381.03,705.18 L374.43,705.18Z" fill="#9BBB59"/>
<path d="M402.54,675.54 L405.84,681.94 L399.24,681.94Z" fill="#9BBB59"/>
<path d="M427.35,672.14 L430.65,678.54 L424.05,678.54Z" fill="#9BBB59"/>
<path d="M452.16,690.28 L455.46,696.68 L448.86,696.68Z" fill="#9BBB59"/>
<path d="M476.97,709.83 L480.27,716.23 L473.67,716.23Z" fill="#9BBB59"/>
<path d="M501.78,712.39 L505.08,718.79 L498.48,718.79Z" fill="#9BBB59"/>
<path d="M526.59,726.84 L529.89,733.24 L523.29,733.24Z" fill="#9BBB59"/>
<path d="M328.11,734.41 C332.25,732.99 344.65,729.45 352.92,725.91 C361.19,722.36 369.46,718.82 377.73,713.15 C386,707.48 394.27,697.09 402.54,691.89 C410.81,686.7 419.08,681.55 427.35,681.97 C435.62,682.4 443.89,688.97 452.16,694.45 C460.43,699.92 468.7,711.03 476.97,714.85 C485.24,718.68 493.51,713.81 501.78,717.4 C510.05,720.99 522.45,733.23 526.59,736.39" fill="none" stroke="#8064A2" stroke-width="2.3" stroke-linejoin="round"/>
<path d="M325.11,731.41 L331.11,737.41 M331.11,731.41 L325.11,737.41" stroke="#8064A2" stroke-width="0.9"/>
<path d="M349.92,722.91 L355.92,728.91 M355.92,722.91 L349.92,728.91" stroke="#8064A2" stroke-width="0.9"/>
<path d="M374.73,710.15 L380.73,716.15 M380.73,710.15 L374.73,716.15" stroke="#8064A2" stroke-width="0.9"/>
<path d="M399.54,688.89 L405.54,694.89 M405.54,688.89 L399.54,694.89" stroke="#8064A2" stroke-width="0.9"/>
<path d="M424.35,678.97 L430.35,684.97 M430.35,678.97 L424.35,684.97" stroke="#8064A2" stroke-width="0.9"/>
<path d="M449.16,691.45 L455.16,697.45 M455.16,691.45 L449.16,697.45" stroke="#8064A2" stroke-width="0.9"/>
<path d="M473.97,711.85 L479.97,717.85 M479.97,711.85 L473.97,717.85" stroke="#8064A2" stroke-width="0.9"/>
<path d="M498.78,714.4 L504.78,720.4 M504.78,714.4 L498.78,720.4" stroke="#8064A2" stroke-width="0.9"/>
<path d="M523.59,733.39 L529.59,739.39 M529.59,733.39 L523.59,739.39" stroke="#8064A2" stroke-width="0.9"/>
<rect x="483.4" y="662" width="75.2" height="11.2" fill="#fff"/>
<text x="482.75" y="672" font-size="12.9" textLength="77.34" lengthAdjust="spacingAndGlyphs" font-weight="bold" fill="#000">Manganese</text>
<line x1="0" y1="0.5" x2="567" y2="0.5" stroke="#7e7e7e"/>
<line x1="0" y1="159.5" x2="567" y2="159.5" stroke="#7e7e7e"/>
<line x1="0" y1="316.5" x2="567" y2="316.5" stroke="#7e7e7e"/>
<line x1="0" y1="474.5" x2="567" y2="474.5" stroke="#7e7e7e"/>
<line x1="0" y1="633.5" x2="567" y2="633.5" stroke="#7e7e7e"/>
<line x1="0" y1="792.5" x2="567" y2="792.5" stroke="#7e7e7e"/>
<line x1="0.7" y1="0" x2="0.7" y2="159" stroke="#c4c4c4" stroke-width="1.4"/>
<line x1="0.5" y1="159" x2="0.5" y2="793" stroke="#858585"/>
<line x1="283.5" y1="0" x2="283.5" y2="793" stroke="#7e7e7e"/>
<line x1="282.5" y1="316" x2="282.5" y2="474" stroke="#8a8a8a"/>
<line x1="566.5" y1="0" x2="566.5" y2="793" stroke="#7e7e7e"/>
</svg>
</body></html>
